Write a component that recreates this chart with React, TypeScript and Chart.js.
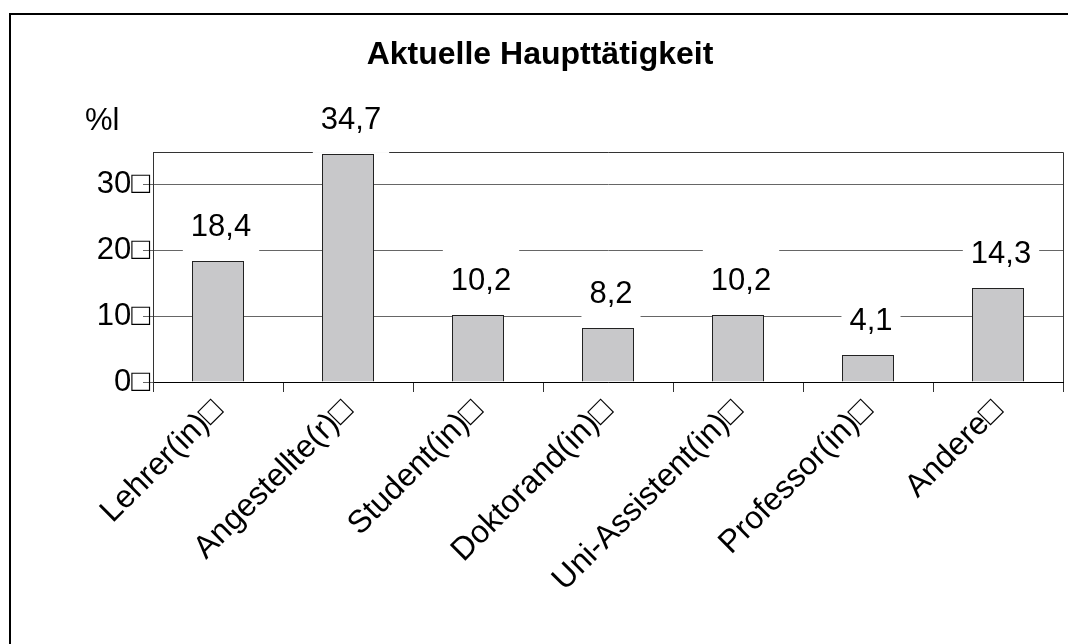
import React, { useEffect, useRef } from "react";
import { Chart, registerables } from "chart.js";

Chart.register(...registerables);

const categories = [
  "Lehrer(in)□",
  "Angestellte(r)□",
  "Student(in)□",
  "Doktorand(in)□",
  "Uni-Assistent(in)□",
  "Professor(in)□",
  "Andere□",
];
const values = [18.4, 34.7, 10.2, 8.2, 10.2, 4.1, 14.3];
const valueLabels = ["18,4", "34,7", "10,2", "8,2", "10,2", "4,1", "14,3"];
const yTicks = [0, 10, 20, 30];
const titleText = "Aktuelle Haupttätigkeit";
const yAxisTitle = "%l";

const FONT = '"Liberation Sans", Arial, Helvetica, sans-serif';

const deco = {
  id: "deco",
  beforeDatasetsDraw(chart: any) {
    const ctx = chart.ctx;
    const { left, top, right, bottom } = chart.chartArea;
    ctx.save();
    ctx.strokeStyle = "#333";
    ctx.lineWidth = 1;
    ctx.beginPath();
    ctx.moveTo(left, top + 0.5);
    ctx.lineTo(right + 0.5, top + 0.5);
    ctx.lineTo(right + 0.5, bottom);
    ctx.stroke();
    ctx.restore();
  },
  afterDatasetsDraw(chart: any) {
    const ctx = chart.ctx;
    const meta = chart.getDatasetMeta(0);
    ctx.save();
    ctx.font = `31px ${FONT}`;
    meta.data.forEach((el: any, i: number) => {
      const txt = valueLabels[i];
      const x = el.x;
      const y = el.y;
      const w = ctx.measureText(txt).width;
      const base = y - 25;
      const boxTop = base - 46;
      ctx.fillStyle = "#fff";
      ctx.fillRect(x + 3 - w / 2 - 8, boxTop, w + 16, y - 1 - boxTop);
      ctx.fillStyle = "#000";
      ctx.textAlign = "center";
      ctx.textBaseline = "alphabetic";
      ctx.fillText(txt, x + 3, base);
    });
    ctx.restore();
  },
  afterDraw(chart: any) {
    const ctx = chart.ctx;
    ctx.save();
    ctx.fillStyle = "#000";
    ctx.font = `bold 32px ${FONT}`;
    ctx.textAlign = "center";
    ctx.textBaseline = "alphabetic";
    ctx.fillText(titleText, 540, 64);
    ctx.font = `31px ${FONT}`;
    ctx.textAlign = "left";
    ctx.fillText(yAxisTitle, 85, 130);
    ctx.strokeStyle = "#000";
    ctx.lineWidth = 2;
    ctx.strokeRect(10, 14, 1200, 1000);
    ctx.restore();
  },
};

export default function App() {
  const ref = useRef<HTMLCanvasElement | null>(null);
  useEffect(() => {
    if (!ref.current) return;
    const chart = new Chart(ref.current, {
      type: "bar",
      data: {
        labels: categories,
        datasets: [
          {
            data: values,
            backgroundColor: "#c8c8ca",
            borderColor: "#222",
            borderWidth: 1,
            categoryPercentage: 1,
            barPercentage: 0.4,
          },
        ],
      },
      options: {
        animation: false,
        responsive: false,
        maintainAspectRatio: false,
        layout: { padding: { left: 0, top: 152, right: 5, bottom: 0 } },
        plugins: {
          legend: { display: false },
          title: { display: false },
          tooltip: { enabled: false },
        },
        scales: {
          x: {
            offset: true,
            grid: {
              offset: true,
              drawOnChartArea: false,
              drawTicks: true,
              tickLength: 10,
              color: "#333",
            },
            border: { color: "#000", width: 1 },
            ticks: {
              minRotation: 45,
              maxRotation: 45,
              autoSkip: false,
              color: "#000",
              font: { family: FONT, size: 32 },
              padding: 0,
            },
            afterFit(scale: any) {
              scale.height = 262;
            },
          },
          y: {
            min: 0,
            max: 35,
            afterBuildTicks(scale: any) {
              scale.ticks = yTicks.map((v) => ({ value: v }));
            },
            grid: {
              color: "#666",
              drawTicks: true,
              tickLength: 10,
            },
            border: { color: "#333", width: 1 },
            ticks: {
              color: "#000",
              font: { family: FONT, size: 31 },
              padding: -7,
              callback: (v: any) => `${v}□`,
            },
            afterFit(scale: any) {
              scale.width = 153;
            },
          },
        },
      },
      plugins: [deco],
    });
    return () => chart.destroy();
  }, []);
  return (
    <div style={{ position: "absolute", left: 0, top: 0, width: 1068, height: 644 }}>
      <canvas ref={ref} width={1068} height={644} />
    </div>
  );
}
